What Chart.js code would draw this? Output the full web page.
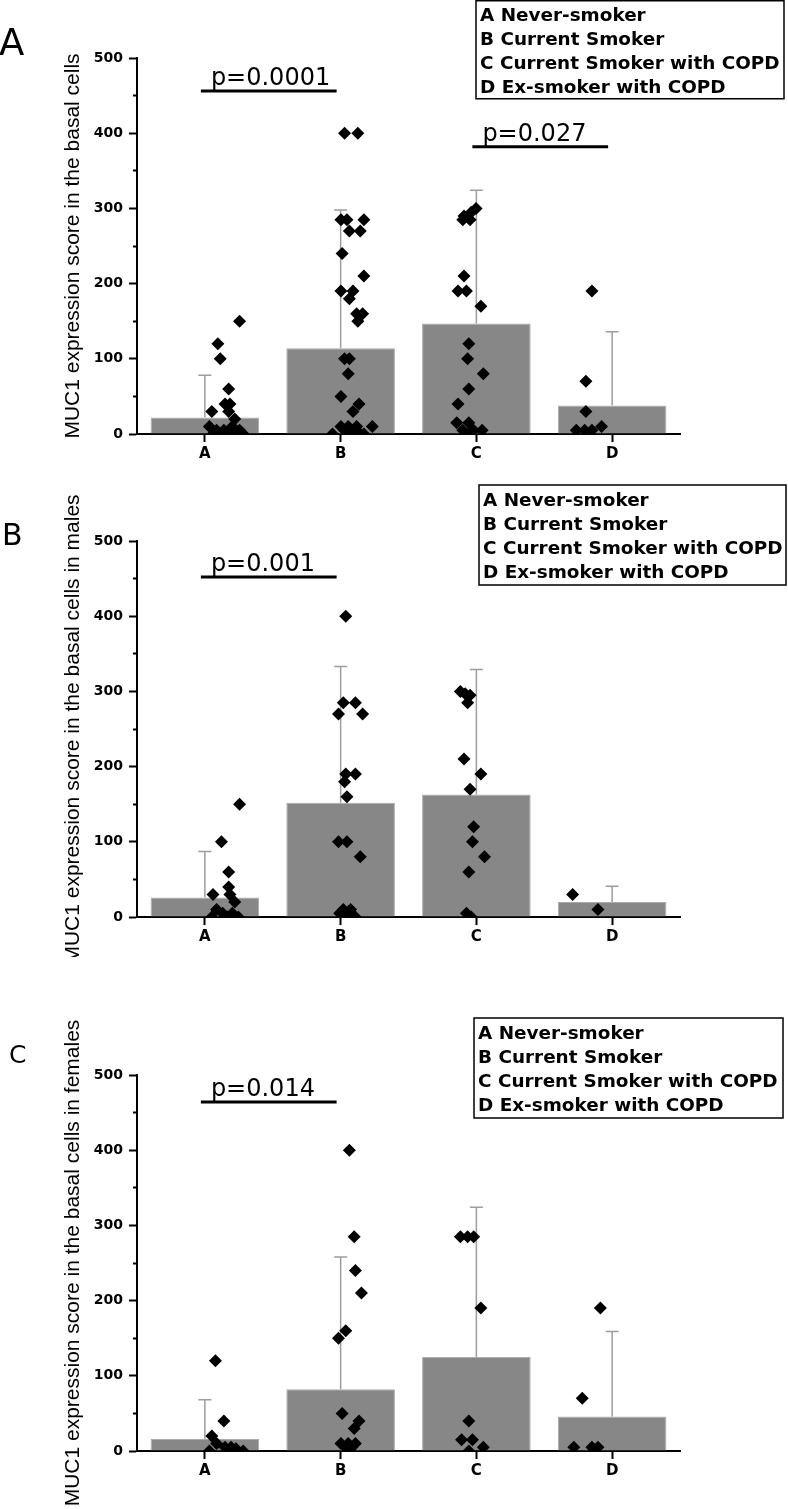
<!DOCTYPE html>
<html>
<head>
<meta charset="utf-8">
<script src="https://cdn.jsdelivr.net/npm/chart.js@4/dist/chart.umd.min.js"></script>
<style>
  html, body { margin: 0; padding: 0; background: #fff; }
  body { width: 788px; height: 1509px; position: relative; overflow: hidden; }
  canvas { position: absolute; left: 0; }
</style>
</head>
<body>
<canvas id="panelA" width="788" height="474" style="top:0px"></canvas>
<canvas id="panelB" width="788" height="477" style="top:480px"></canvas>
<canvas id="panelC" width="788" height="509" style="top:1000px"></canvas>
<script>
const groups = ['A', 'B', 'C', 'D']
const legendLines = ['A Never-smoker', 'B Current Smoker', 'C Current Smoker with COPD', 'D Ex-smoker with COPD']

// panel A - all subjects
const allMeans = [22, 114, 147, 38]
const allSD = [56, 184, 177, 98]
const allScores = [
  [150, 120, 100, 60, 40, 40, 30, 30, 20, 10, 5, 5, 10, 5, 0, 0, 0, 0, 0, 0],
  [400, 400, 285, 285, 285, 270, 270, 240, 210, 190, 190, 180, 160, 160, 150, 100, 100, 80, 50, 40, 30, 10, 10, 10, 10, 5, 5, 0, 0, 0, 0],
  [300, 295, 290, 285, 285, 210, 190, 190, 170, 120, 100, 80, 60, 40, 15, 15, 5, 5, 5, 0],
  [190, 70, 30, 10, 5, 5, 5]
]
const allJitter = [
  [0.10, -0.08, -0.06, 0.01, -0.02, 0.02, -0.13, 0.01, 0.06, -0.15, -0.09, -0.03, 0.04, 0.10, -0.12, -0.05, 0.01, 0.07, 0.13, -0.01],
  [-0.03, 0.08, -0.06, -0.01, 0.13, 0.01, 0.10, -0.05, 0.13, -0.06, 0.04, 0.01, 0.07, 0.12, 0.08, -0.03, 0.01, 0, -0.06, 0.09, 0.04, 0.20, -0.06, 0, 0.07, -0.03, 0.04, -0.13, 0.01, 0.10, 0.13],
  [0.06, 0.02, -0.04, -0.05, 0.01, -0.04, -0.09, -0.02, 0.10, 0, -0.01, 0.12, 0, -0.09, -0.10, 0, -0.05, 0.04, 0.11, 0],
  [0.02, -0.03, -0.03, 0.10, -0.11, -0.04, 0.02]
]
const allBrackets = [[0, 1, 'p=0.0001', 456], [2, 3, 'p=0.027', 382]]

// panel B - males
const maleMeans = [26, 152, 163, 20]
const maleSD = [61, 181, 166, 21]
const maleScores = [
  [150, 100, 60, 40, 30, 30, 20, 10, 5, 5, 0, 0, 0],
  [400, 285, 285, 270, 270, 190, 190, 180, 160, 100, 100, 80, 10, 10, 5, 0, 0],
  [300, 297, 295, 285, 210, 190, 170, 120, 100, 80, 60, 5, 0],
  [30, 10]
]
const maleJitter = [
  [0.10, -0.05, 0.01, 0.01, -0.12, 0.02, 0.06, -0.09, -0.04, 0.04, -0.13, 0, 0.09],
  [-0.02, -0.04, 0.06, -0.08, 0.12, -0.02, 0.06, -0.03, -0.01, -0.08, -0.01, 0.10, -0.04, 0.02, -0.07, 0, 0.06],
  [-0.07, -0.03, 0.01, -0.01, -0.04, 0.10, 0.01, 0.04, 0.03, 0.13, 0, -0.02, 0.02],
  [-0.14, 0.07]
]
const maleBrackets = [[0, 1, 'p=0.001', 452]]

// panel C - females
const femaleMeans = [16, 82, 125, 46]
const femaleSD = [52, 176, 199, 113]
const femaleScores = [
  [120, 40, 20, 10, 5, 5, 3, 0, 0, 0],
  [400, 285, 240, 210, 160, 150, 50, 40, 30, 10, 10, 10, 5, 5],
  [285, 285, 285, 190, 40, 15, 15, 5, 0],
  [190, 70, 5, 5, 5]
]
const femaleJitter = [
  [-0.10, -0.03, -0.13, -0.09, -0.02, 0.03, 0.07, -0.15, 0.13, 0.01],
  [0.01, 0.05, 0.06, 0.11, -0.02, -0.08, -0.05, 0.09, 0.05, -0.06, 0, 0.06, -0.02, 0.03],
  [-0.07, -0.01, 0.04, 0.10, 0, -0.06, 0.03, 0.12, 0],
  [0.09, -0.06, -0.13, 0.02, 0.07]
]
const femaleBrackets = [[0, 1, 'p=0.014', 464]]

function toPoints(scores, jitter) {
  const pts = []
  scores.forEach((list, g) => {
    list.forEach((v, k) => pts.push({x: g + jitter[g][k], y: v}))
  })
  return pts
}

function makeDecor(cfg) {
  return {
    id: 'decor',
    afterDatasetDraw(chart, args) {
      if (args.index !== 0) return
      const ctx = chart.ctx
      const y = chart.scales.y
      ctx.save()
      ctx.strokeStyle = '#9d9d9d'
      ctx.lineWidth = 1.5
      args.meta.data.forEach((bar, i) => {
        const top = y.getPixelForValue(cfg.means[i] + cfg.sd[i])
        ctx.beginPath()
        ctx.moveTo(bar.x, bar.y)
        ctx.lineTo(bar.x, top)
        ctx.moveTo(bar.x - 6.5, top)
        ctx.lineTo(bar.x + 6.5, top)
        ctx.stroke()
      })
      ctx.restore()
    },
    afterDraw(chart) {
      const ctx = chart.ctx
      const x = chart.scales.x
      const y = chart.scales.y
      ctx.save()
      // significance lines
      cfg.brackets.forEach(([a, b, label, level]) => {
        const x1 = x.getPixelForValue(a) - 4
        const x2 = x.getPixelForValue(b) - 4
        const py = y.getPixelForValue(level)
        ctx.strokeStyle = '#000'
        ctx.lineWidth = 3
        ctx.beginPath()
        ctx.moveTo(x1, py)
        ctx.lineTo(x2, py)
        ctx.stroke()
        ctx.fillStyle = '#000'
        ctx.font = "24px 'DejaVu Sans'"
        ctx.textAlign = 'left'
        ctx.textBaseline = 'alphabetic'
        ctx.fillText(label, x1 + 10, py - 6)
      })
      // group key box
      const box = cfg.legend
      ctx.strokeStyle = '#000'
      ctx.lineWidth = 1.5
      ctx.strokeRect(box.x, box.y, box.w, box.h)
      ctx.fillStyle = '#000'
      ctx.font = "bold 18.4px 'DejaVu Sans'"
      ctx.textAlign = 'left'
      ctx.textBaseline = 'alphabetic'
      legendLines.forEach((t, i) => ctx.fillText(t, box.textX, box.base + i * 24))
      // panel letter
      ctx.font = cfg.letter.font
      ctx.fillText(cfg.letter.text, cfg.letter.x, cfg.letter.y)
      ctx.restore()
    }
  }
}

function makePanel(id, cfg) {
  const canvas = document.getElementById(id)
  return new Chart(canvas, {
    type: 'bar',
    data: {
      labels: groups,
      datasets: [
        {
          type: 'bar',
          data: cfg.means,
          backgroundColor: '#878787',
          borderColor: '#ababab',
          borderWidth: 1,
          grouped: false,
          categoryPercentage: 1,
          barPercentage: 0.8,
          order: 2
        },
        {
          type: 'scatter',
          xAxisID: 'xj',
          data: toPoints(cfg.scores, cfg.jitter),
          pointStyle: 'rectRot',
          pointRadius: 6.5,
          pointBackgroundColor: '#000',
          pointBorderWidth: 0,
          showLine: false,
          order: 1,
          clip: {left: 20, right: 20, top: 20, bottom: 0}
        }
      ]
    },
    options: {
      responsive: false,
      animation: false,
      events: [],
      layout: {padding: {left: 0, top: cfg.top, right: 108, bottom: canvas.height - cfg.bottom - 40}},
      plugins: {legend: {display: false}, tooltip: {enabled: false}},
      scales: {
        x: {
          type: 'category',
          offset: true,
          z: 1,
          grid: {drawOnChartArea: false, offset: false, tickLength: 8, tickWidth: 2, tickColor: '#000'},
          border: {color: '#000', width: 2},
          ticks: {color: '#000', padding: 3, font: {family: 'DejaVu Sans', weight: 'bold', size: 15}},
          afterFit: s => { s.height = 40 }
        },
        xj: {type: 'linear', display: false, min: -0.5, max: 3.5},
        y: {
          min: 0,
          max: 500,
          z: 1,
          ticks: {
            stepSize: 50,
            autoSkip: false,
            color: '#000',
            padding: 6,
            font: {family: 'DejaVu Sans', weight: 'bold', size: 14},
            callback: v => (v % 100 === 0 ? v : '')
          },
          grid: {
            drawOnChartArea: false,
            tickLength: 8,
            tickWidth: 2,
            tickColor: '#000',
            tickBorderDash: c => (c.tick && c.tick.value % 100 ? [0, 4, 6, 20] : [])
          },
          border: {color: '#000', width: 2},
          title: {
            display: true,
            text: cfg.title,
            color: '#000',
            font: {family: 'Liberation Sans', size: 21},
            padding: {top: 61, bottom: 0}
          },
          afterFit: s => { s.width = 137 }
        }
      }
    },
    plugins: [makeDecor(cfg)]
  })
}

makePanel('panelA', {
  means: allMeans, sd: allSD, scores: allScores, jitter: allJitter, brackets: allBrackets,
  title: 'MUC1 expression score in the basal cells',
  top: 58, bottom: 434,
  legend: {x: 476, y: 0.75, w: 308, h: 98, textX: 480, base: 21},
  letter: {text: 'A', font: "37px 'DejaVu Sans'", x: -1, y: 55}
})

makePanel('panelB', {
  means: maleMeans, sd: maleSD, scores: maleScores, jitter: maleJitter, brackets: maleBrackets,
  title: 'MUC1 expression score in the basal cells in males',
  top: 61, bottom: 437,
  legend: {x: 479, y: 5, w: 307, h: 100, textX: 483, base: 25.7},
  letter: {text: 'B', font: "30px 'DejaVu Sans'", x: 2, y: 65}
})

makePanel('panelC', {
  means: femaleMeans, sd: femaleSD, scores: femaleScores, jitter: femaleJitter, brackets: femaleBrackets,
  title: 'MUC1 expression score in the basal cells in females',
  top: 75, bottom: 451,
  legend: {x: 474, y: 18, w: 309, h: 100, textX: 478, base: 38.7},
  letter: {text: 'C', font: "25px 'DejaVu Sans'", x: 9, y: 63}
})
</script>
</body>
</html>
